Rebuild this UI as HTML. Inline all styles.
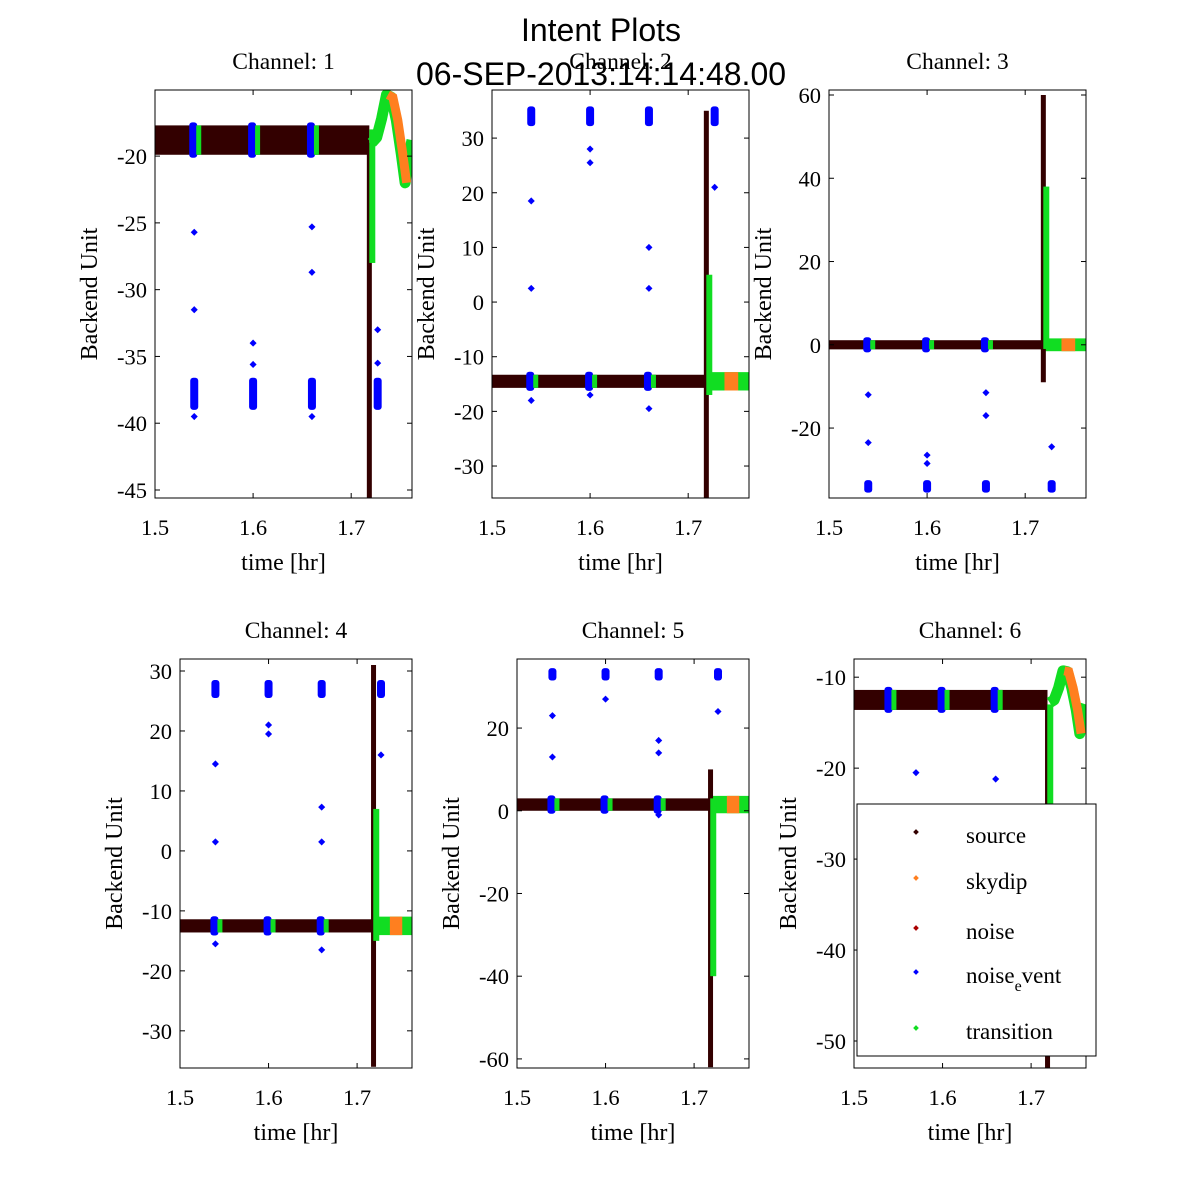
<!DOCTYPE html>
<html><head><meta charset="utf-8"><style>
body{margin:0;background:#fff}
svg{display:block}
text{font-family:"Liberation Serif",serif;fill:#000}
</style></head><body>
<svg id="fig" width="1200" height="1200" viewBox="0 0 1200 1200">
<rect width="1200" height="1200" fill="#fff"/>
<text x="601" y="41" text-anchor="middle" style="font-family:'Liberation Sans',sans-serif;font-size:32px">Intent Plots</text>
<text x="601" y="85" text-anchor="middle" style="font-family:'Liberation Sans',sans-serif;font-size:32px">06-SEP-2013:14:14:48.00</text>
</svg>
<script>
const channels=[1,2,3,4,5,6];
const yDomains=[[-45.6,-15.05],[-35.85,38.8],[-36.8,61.2],[-36.2,32],[-62.2,36.7],[-52.97,-8.0]];
const yTicks=[[-45,-40,-35,-30,-25,-20],[-30,-20,-10,0,10,20,30],[-20,0,20,40,60],[-30,-20,-10,0,10,20,30],[-60,-40,-20,0,20],[-50,-40,-30,-20,-10]];
const xDomain=[1.5,1.762];
const xTicks=[1.5,1.6,1.7];
const baseCenter=[-18.8,-14.5,0,-12.5,1.5,-12.5];
const baseHalf=[1.1,1.2,1.1,1.1,1.5,1.1];
const clusterX=[1.54,1.60,1.66,1.727];
const clusterY=[-37.8,34,-34,27,33,null];
const clusterHalf=[1.2,1.8,1.5,1.5,1.5,0];
const spikeSource=[[-19,-45.6],[35,-36],[-9,60],[-36,31],[10,-62],[-13,-53]];
const spikeTransition=[[-18,-28],[-17,5],[-1,38],[-15,7],[-40,3],[-28,-13]];
const outliers=[
 [[1.54,-25.7],[1.54,-31.5],[1.60,-34],[1.60,-35.6],[1.66,-25.3],[1.66,-28.7],[1.727,-33],[1.727,-35.5],[1.54,-39.5],[1.66,-39.5]],
 [[1.54,18.5],[1.54,2.5],[1.60,28],[1.60,25.5],[1.66,10],[1.66,2.5],[1.727,21],[1.54,-18],[1.66,-19.5],[1.60,-17]],
 [[1.54,-12],[1.54,-23.5],[1.60,-26.5],[1.60,-28.5],[1.66,-11.5],[1.66,-17],[1.727,-24.5]],
 [[1.54,14.5],[1.54,1.5],[1.60,19.5],[1.60,21],[1.66,7.3],[1.66,1.5],[1.727,16],[1.54,-15.5],[1.66,-16.5]],
 [[1.54,23],[1.54,13],[1.60,27],[1.66,17],[1.66,14],[1.727,24],[1.66,-1]],
 [[1.57,-20.5],[1.66,-21.2]]
];
const tailX=[1.721,1.726,1.731,1.736,1.741,1.746,1.751,1.755,1.758,1.762];
const tailY1=[-19,-18.6,-17.2,-15.4,-15.6,-17.3,-19.8,-22,-20.2,-18.8];
const tailY6=[-12.8,-12.5,-11.2,-9.3,-9.4,-11.2,-13.6,-16.2,-14.2,-13];
const tailSeries=[tailY1,null,null,null,null,tailY6];
const skydipRange=[1.737,1.755];

const P=[{l:155,r:412,t:90,b:498},{l:492,r:749,t:90,b:498},{l:829,r:1086,t:90,b:498},
{l:180,r:412,t:659,b:1068},{l:517,r:749,t:659,b:1068},{l:854,r:1086,t:659,b:1068}];
const C={src:'#330000',sky:'#ff7f1f',ne:'#0000ff',tr:'#11dd22'};
const NS='http://www.w3.org/2000/svg';
const svg=document.getElementById('fig');
function mk(tag,attrs,parent){const e=document.createElementNS(NS,tag);for(const k in attrs)e.setAttribute(k,attrs[k]);(parent||svg).appendChild(e);return e;}

channels.forEach((ch,i)=>{
 const p=P[i],d=yDomains[i];
 const X=v=>p.l+(v-xDomain[0])/(xDomain[1]-xDomain[0])*(p.r-p.l);
 const Y=v=>p.b-(v-d[0])/(d[1]-d[0])*(p.b-p.t);
 const g=mk('g',{});
 
 
 mk('clipPath',{id:'clip'+i},g).appendChild((()=>{const r=document.createElementNS(NS,'rect');r.setAttribute('x',p.l);r.setAttribute('y',p.t);r.setAttribute('width',p.r-p.l);r.setAttribute('height',p.b-p.t);return r;})());
 const pg=mk('g',{'clip-path':'url(#clip'+i+')'},g);
 const yb1=Y(baseCenter[i]+baseHalf[i]),yb2=Y(baseCenter[i]-baseHalf[i]);
 const band=mk('rect',{x:X(1.5),y:yb1,width:X(1.7185)-X(1.5),height:yb2-yb1,fill:C.src},pg);
 
 
 const ts=tailSeries[i];
 if(ts){
  const ptsG=[],ptsO=[];
  tailX.forEach((x,k)=>{ptsG.push(X(x)+','+Y(ts[k]));});
  const tl=mk('polyline',{points:ptsG.join(' '),fill:'none',stroke:C.tr,'stroke-width':11,'stroke-linejoin':'round'},pg);
  
  
  tailX.forEach((x,k)=>{if(x>=skydipRange[0]-0.002&&x<=skydipRange[1]+0.001)ptsO.push(X(x+0.0015)+','+Y(ts[k]));});
  const ol=mk('polyline',{points:ptsO.join(' '),fill:'none',stroke:C.sky,'stroke-width':9},pg);
  
  
 } else {
  const h1=Y(baseCenter[i]+baseHalf[i]*1.4),h2=Y(baseCenter[i]-baseHalf[i]*1.4);
  const t1=mk('rect',{x:X(1.72),y:h1,width:X(1.762)-X(1.72),height:h2-h1,fill:C.tr},pg);
  
  
  const s1=mk('rect',{x:X(1.737),y:h1,width:X(1.751)-X(1.737),height:h2-h1,fill:C.sky},pg);
  
  
 }
 const ss=spikeSource[i];
 const sp=mk('rect',{x:X(1.718)-2,y:Math.min(Y(ss[0]),Y(ss[1])),width:5,height:Math.abs(Y(ss[0])-Y(ss[1])),fill:C.src},pg);
 
 
 const st=spikeTransition[i];
 const tp=mk('rect',{x:X(1.7205)-2,y:Math.min(Y(st[0]),Y(st[1])),width:6,height:Math.abs(Y(st[0])-Y(st[1])),fill:C.tr},pg);
 
 
 clusterX.forEach((cx,k)=>{
  if(k<3){
   const b=mk('rect',{x:X(cx)-5,y:yb1-3,width:8,height:yb2-yb1+6,fill:C.ne,rx:3},pg);
   
   
   const gr=mk('rect',{x:X(cx)+2,y:yb1,width:5,height:yb2-yb1,fill:C.tr},pg);
   
   
  }
  if(clusterY[i]!==null){
   const c1=Y(clusterY[i]+clusterHalf[i]),c2=Y(clusterY[i]-clusterHalf[i]);
   const u=mk('rect',{x:X(cx)-4,y:c1,width:8,height:c2-c1,fill:C.ne,rx:3},pg);
   
   
  }
 });
 outliers[i].forEach(pt=>{
  const c=mk('rect',{x:X(pt[0])-2.5,y:Y(pt[1])-2.5,width:5,height:5,fill:C.ne,transform:'rotate(45 '+X(pt[0])+' '+Y(pt[1])+')'},pg);
  
  
 });
 const fr=mk('rect',{x:p.l,y:p.t,width:p.r-p.l,height:p.b-p.t,fill:'none',stroke:'#000','stroke-width':1},g);
 
 
 yTicks[i].forEach(v=>{
  const y=Y(v);
  mk('line',{x1:p.l,x2:p.l+5,y1:y,y2:y,stroke:'#000'},g);
  mk('line',{x1:p.r,x2:p.r-5,y1:y,y2:y,stroke:'#000'},g);
  const t=mk('text',{x:p.l-8,y:y+8,'text-anchor':'end','font-size':22.5},g);
  t.textContent=v;
  
  
 });
 xTicks.forEach(v=>{
  const x=X(v);
  mk('line',{x1:x,x2:x,y1:p.b,y2:p.b-5,stroke:'#000'},g);
  mk('line',{x1:x,x2:x,y1:p.t,y2:p.t+5,stroke:'#000'},g);
  const t=mk('text',{x:x,y:p.b+37,'text-anchor':'middle','font-size':22.5},g);
  t.textContent=v.toFixed(1);
  
  
 });
 const xl=mk('text',{x:(p.l+p.r)/2,y:p.b+72,'text-anchor':'middle','font-size':24},g);
 xl.textContent='time [hr]';
 
 
 const yc=(p.t+p.b)/2,yx=p.l-58;
 const yl=mk('text',{x:yx,y:yc,'text-anchor':'middle','font-size':24,transform:'rotate(-90 '+yx+' '+yc+')'},g);
 yl.textContent='Backend Unit';
 
 
 const ti=mk('text',{x:(p.l+p.r)/2,y:p.t-21,'text-anchor':'middle','font-size':23.5},g);
 ti.textContent='Channel: '+ch;
 
 
});
const legendLabels=['source','skydip','noise','noise_event','transition'];
const legendColors=[C.src,C.sky,'#aa0000',C.ne,C.tr];
const legendY=[832,878,928,972,1028];
const lg=mk('g',{});


mk('rect',{x:857,y:804,width:239,height:252,fill:'#fff',stroke:'#000'},lg);
legendLabels.forEach((lab,k)=>{
 const e=mk('g',{},lg);
 
 
 mk('rect',{x:914,y:legendY[k]-2,width:4,height:4,fill:legendColors[k],transform:'rotate(45 916 '+legendY[k]+')'},e);
 const t=mk('text',{x:966,y:legendY[k]+11,'font-size':23},e);
 if(lab==='noise_event'){t.innerHTML='noise<tspan dy="8" font-size="16">e</tspan><tspan dy="-8">vent</tspan>';}
 else t.textContent=lab;
});
</script>
</body></html>
